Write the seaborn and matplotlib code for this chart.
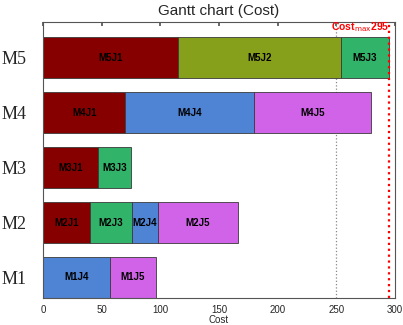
import matplotlib
matplotlib.use('Agg')
import matplotlib.pyplot as plt
import seaborn as sns

# machines and their scheduled jobs (start, duration)
machines = ['M1', 'M2', 'M3', 'M4', 'M5']
jobs = {
    'M1': ['J4', 'J5'],
    'M2': ['J1', 'J3', 'J4', 'J5'],
    'M3': ['J1', 'J3'],
    'M4': ['J1', 'J4', 'J5'],
    'M5': ['J1', 'J2', 'J3'],
}
durations = {
    'M1': [57, 39],
    'M2': [40, 36, 22, 68],
    'M3': [47, 28],
    'M4': [70, 110, 100],
    'M5': [115, 139, 41],
}
cost_max = 295
cost_bound = 250
xticks = [0, 50, 100, 150, 200, 250, 300]

job_colors = {
    'J1': '#870000',
    'J2': '#87a01c',
    'J3': '#31b36a',
    'J4': '#4f83d3',
    'J5': '#d063e8',
}

sns.set_theme(style='white')
plt.rcParams['font.family'] = ['Liberation Sans', 'DejaVu Sans']

fig = plt.figure(figsize=(4.03, 3.25), dpi=100)
ax = fig.add_axes([0.107, 0.083, 0.873, 0.849])

ax.axvline(cost_bound, color='#888888', linestyle=':', linewidth=0.9, zorder=1)

for i, m in enumerate(machines):
    y = i + 1
    start = 0
    for job, d in zip(jobs[m], durations[m]):
        ax.barh(y, d, left=start, height=0.75, color=job_colors[job],
                edgecolor='#3a3a3a', linewidth=0.6, zorder=2)
        ax.text(start + d / 2, y, m + job, ha='center', va='center',
                fontsize=7, fontweight='bold', color='black', zorder=3)
        start += d

ax.axvline(cost_max, color='red', linestyle=':', linewidth=1.6, zorder=4)
ax.text(cost_max, 5.56, r'Cost$_{\rm max}$295', color='red', fontsize=7.5,
        fontweight='bold', ha='right', va='center', zorder=5)

ax.set_xlim(0, 300)
ax.set_ylim(0.625, 5.65)
ax.set_xticks(xticks)
ax.set_yticks(range(1, len(machines) + 1))
ax.set_yticklabels(machines, fontsize=13, family='Liberation Serif')
ax.tick_params(axis='x', direction='in', length=3, top=True, labelsize=7,
               pad=5, color='#555555')
ax.tick_params(axis='y', length=0, pad=12)
ax.set_xlabel('Cost', fontsize=7, labelpad=0)
ax.set_title('Gantt chart (Cost)', fontsize=11, pad=5)
for s in ax.spines.values():
    s.set_color('#555555')
    s.set_linewidth(0.8)

fig.savefig('out.png', dpi=100)
